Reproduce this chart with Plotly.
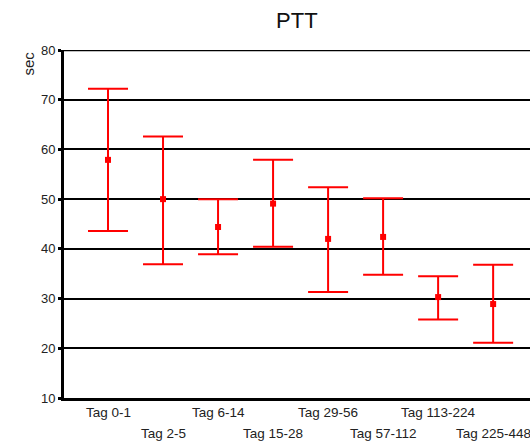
import plotly.graph_objects as go

# PTT by age group: mean with lower/upper bounds (seconds)
categories = ["Tag 0-1", "Tag 2-5", "Tag 6-14", "Tag 15-28",
              "Tag 29-56", "Tag 57-112", "Tag 113-224", "Tag 225-448"]
means = [57.9, 50.0, 44.4, 49.1, 42.0, 42.4, 30.3, 28.9]
upper = [72.2, 62.6, 50.0, 57.9, 52.4, 50.2, 34.5, 36.8]
lower = [43.6, 36.9, 38.9, 40.4, 31.3, 34.8, 25.8, 21.1]
y_ticks = [10, 20, 30, 40, 50, 60, 70, 80]

xs = list(range(len(categories)))
err_plus = [u - m for u, m in zip(upper, means)]
err_minus = [m - l for m, l in zip(means, lower)]

fig = go.Figure(go.Scatter(
    x=xs, y=means, mode="markers",
    marker=dict(symbol="square", size=6, color="#ff0000"),
    error_y=dict(type="data", symmetric=False, array=err_plus,
                 arrayminus=err_minus, color="#ff0000",
                 thickness=2, width=20),
    showlegend=False,
    cliponaxis=False,
))

# category labels, alternating between two rows
annotations = []
for i, c in enumerate(categories):
    annotations.append(dict(
        text=c, x=i, xref="x", y=0, yref="paper", yanchor="middle",
        yshift=-14 if i % 2 == 0 else -35, showarrow=False,
        font=dict(size=13.5, color="#222"),
    ))
annotations.append(dict(text="sec", textangle=-90, x=-47 / 466, xref="paper",
                        y=(398 - 64) / 348, yref="paper", yanchor="middle",
                        showarrow=False, font=dict(size=15, color="#222")))

fig.update_layout(
    width=530, height=443,
    margin=dict(l=64, r=0, t=50, b=45, autoexpand=False),
    paper_bgcolor="white", plot_bgcolor="white",
    font=dict(family="Liberation Sans, Arial, sans-serif", size=13, color="#222"),
    title=dict(text="PTT", x=0.56, xanchor="center", y=1 - 20 / 443, yanchor="middle",
               font=dict(size=22, color="#111")),
    xaxis=dict(range=[-0.8, 7.67], showticklabels=False,
               showgrid=False, zeroline=False, showline=True,
               linecolor="black", linewidth=3, ticks="", automargin=False),
    yaxis=dict(range=[10, 80], tickvals=y_ticks, showgrid=True,
               gridcolor="black", gridwidth=2, zeroline=False,
               showline=True, linecolor="black", linewidth=3,
               ticks="outside", ticklen=3, tickwidth=3, tickcolor="black",
               tickfont=dict(size=13), automargin=False),
    annotations=annotations,
    shapes=[dict(type="line", xref="paper", yref="y", x0=0, x1=1, y0=80, y1=80,
                 line=dict(color="black", width=2.5), layer="below")],
)

fig.write_html("out.html")
